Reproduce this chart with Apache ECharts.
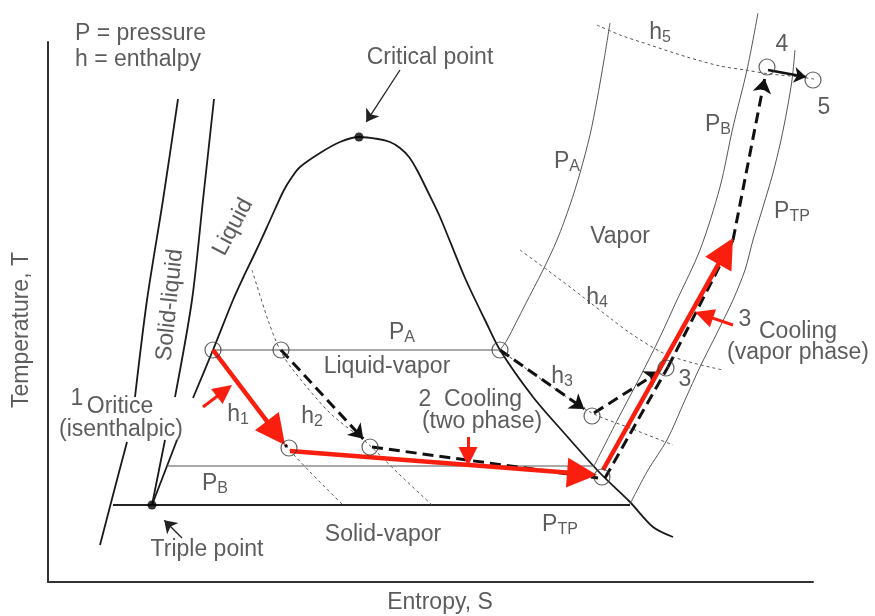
<!DOCTYPE html>
<html>
<head>
<meta charset="utf-8">
<script src="https://cdn.jsdelivr.net/npm/echarts@6/dist/echarts.min.js"></script>
<style>
  html, body { margin: 0; padding: 0; background: #fff; }
  #chart { width: 875px; height: 616px; }
</style>
</head>
<body>
<div id="chart"></div>
<script>
// T-S diagram: entropy S on x (0..153), temperature T on y (0..108), arbitrary units

const solidLiquidA = [[26, 96.6], [23, 76.4], [19.8, 56.4], [17.4, 37]]
const solidLiquidALow = [[15.8, 28], [13, 17.4], [10.4, 7.4]]
const solidLiquidB = [[33.2, 96.6], [31, 76.4], [28.8, 56.4], [25.4, 37]]
const solidLiquidBLow = [[23.4, 28.4], [20.8, 15.4]]
const dome = [[29, 36.8], [33, 46.4], [37, 56.4], [39, 60.8], [41.4, 65.8], [43.8, 71], [45.6, 75],
  [47.2, 78.4], [48.8, 81], [50.4, 83], [54.4, 85.8], [58.4, 88], [62.2, 89],
  [66, 88.6], [68.4, 88], [70.4, 86.8], [72.2, 85], [73.8, 82.4], [76, 78], [78.4, 73],
  [83.4, 60.8], [87.4, 52.4], [90.4, 46.4], [97, 37], [103.4, 29.6],
  [110.4, 21.8], [116.4, 16], [121, 11], [125, 9]]
const domeLow = [[25.8, 28.4], [20.8, 15.4]]

const isoTP = [[13, 15.4], [116.4, 15.4]]
const isoB = [[23.8, 23.2], [109.2, 23.2]]
const isoA = [[33, 46.4], [90.4, 46.4]]
const vapA = [[90.4, 46.4], [91.8, 48.4], [95.4, 55.4], [99, 62.4], [101.8, 68.4], [104.4, 75.4],
  [106.4, 81.8], [108.4, 89.4], [109.8, 96.4], [111.2, 104.4], [112.4, 111.8]]
const vapB = [[109.2, 23.2], [114.4, 33.4], [118.4, 41], [122.4, 49], [125.8, 56.4], [130.4, 66.4],
  [134.4, 79], [137, 91], [139.8, 102.4], [142, 113.8]]
const vapTP = [[116.4, 15.6], [120, 22.4], [123.8, 28.4], [127.4, 36.4], [130.4, 43], [133.8, 49.8],
  [137, 56.4], [139.4, 62.4], [141, 68.4], [143, 75], [145, 81.8], [146.6, 88.4], [147.8, 94.4],
  [148.8, 100.4], [149.4, 106.4]]

const h1 = [[33, 46.4], [47.8, 27], [59, 15.4]]
const h2 = [[40.8, 62.4], [44, 52.4], [46.4, 46.4], [49, 42.4], [56.4, 33.8], [63.8, 27.8], [70.4, 21.4], [76.8, 15.4]]
const h3 = [[90.4, 46.4], [99.4, 40], [108.8, 33.8], [116.4, 30.8], [125, 27.4]]
const h4 = [[94.4, 66.4], [100.4, 62], [107, 57], [112.4, 52.8], [116.4, 49.8], [123, 45.8], [129, 43.8], [135, 42.4]]
const h5 = [[109.8, 111.4], [114.4, 109.4], [120.4, 107.4], [127.8, 105], [134.4, 103.2], [139.4, 102.4],
  [144.4, 101.6], [150.4, 101], [154.4, 100.4]]

const statePoints = [[33, 46.4], [46.6, 46.4], [48.2, 26.8], [64.4, 27], [90.4, 46.4], [108.8, 33.2],
  [110.8, 21], [123.6, 42.8], [143.8, 103], [153, 100.4]]
const criticalPoint = [62.2, 89]
const triplePoint = [20.8, 15.4]

// process paths, each [from, to]
const redPath = [[[33, 46.4], [47.4, 27.4]], [[48.4, 26.2], [109.8, 21.4]], [[111, 22.4], [137, 68.8]]]
const dashedPlain = [[[33, 46.4], [47.8, 27]], [[64.8, 27], [110, 20.8]], [[111.4, 20.8], [124, 43]], [[124, 43], [137, 68.4]]]
const dashedArrows = [[[46.6, 46.4], [64, 27.6]], [[90.4, 46.4], [108.4, 33.8]], [[109.2, 33.8], [123.4, 42.8]], [[137, 68.4], [143.6, 102]]]
const solidArrow = [[[144, 102.4], [152.8, 100.8]]]
const redPointers = [[[31, 35], [36.8, 39.4]], [[84, 29], [84, 23.2]], [[137, 51.4], [129.4, 54]]]
const blackPointers = [[[70.4, 102.4], [63, 91]], [[26.8, 8.8], [22.4, 13.2]]]

const notes = [
  [4.4, 109.6, 'P = pressure'], [4.4, 104.4, 'h = enthalpy'],
  [76.4, 104.8, 'Critical point'], [37, 71, 'Liquid'], [24.4, 55.4, 'Solid-liquid'],
  [67.8, 43, 'Liquid-vapor'], [70.8, 49.8, 'P{s|A}'],
  [38, 33.4, 'h{s|1}'], [52.8, 33, 'h{s|2}'], [102.8, 41, 'h{s|3}'], [109.8, 56.8, 'h{s|4}'], [122.4, 109.8, 'h{s|5}'],
  [5.8, 36.6, '1'], [14.4, 35, 'Oritice'], [14.6, 30.4, '(isenthalpic)'],
  [75.4, 36.4, '2'], [87, 36.4, 'Cooling'], [86.8, 32, '(two phase)'],
  [139.4, 52.4, '3'], [150, 50, 'Cooling'], [150, 45.8, '(vapor phase)'],
  [127.4, 40.4, '3'], [146.8, 107.4, '4'], [155.2, 94.8, '5'],
  [134, 91.4, 'P{s|B}'], [103.8, 84, 'P{s|A}'], [148.8, 74, 'P{s|TP}'],
  [33.4, 19.6, 'P{s|B}'], [102.4, 11.4, 'P{s|TP}'],
  [114.4, 69, 'Vapor'], [67, 9.4, 'Solid-vapor'], [31.8, 6.4, 'Triple point'],
  [-5.2, 50.4, 'Temperature, T'], [78.4, -4.2, 'Entropy, S']
]

const FONT = '"Liberation Sans", Arial, sans-serif'
const INK = '#333'
const RED = '#fa1e0e'
const rotations = { 'Liquid': 62, 'Solid-liquid': 84, 'Temperature, T': 90 }
const leftAligned = ['P = pressure', 'h = enthalpy']

const chart = echarts.init(document.getElementById('chart'))
chart.setOption({
  animation: false,
  grid: { left: 48, right: 62, top: 42, bottom: 34 },
  xAxis: {
    type: 'value', min: 0, max: 153,
    axisLine: { show: true, lineStyle: { color: INK, width: 2 } },
    axisTick: { show: false }, axisLabel: { show: false }, splitLine: { show: false }
  },
  yAxis: {
    type: 'value', min: 0, max: 108,
    axisLine: { show: true, lineStyle: { color: INK, width: 2 } },
    axisTick: { show: false }, axisLabel: { show: false }, splitLine: { show: false }
  }
})

// the head symbol is centred on the segment end, so stop the segment half a head early
function pullBack (seg, len) {
  if (!len) return seg
  const a = chart.convertToPixel({ gridIndex: 0 }, seg[0])
  const b = chart.convertToPixel({ gridIndex: 0 }, seg[1])
  const dx = b[0] - a[0]
  const dy = b[1] - a[1]
  const d = Math.hypot(dx, dy)
  const c = [b[0] - dx / d * len, b[1] - dy / d * len]
  return [seg[0], chart.convertFromPixel({ gridIndex: 0 }, c)]
}

function curve (data, width, color, type, smooth) {
  return {
    type: 'line', data, smooth: smooth === undefined ? 0.3 : smooth, showSymbol: false, clip: false,
    silent: true, z: 2,
    lineStyle: { width, color, type: type || 'solid' }
  }
}

function arrows (segs, width, color, type, head, size, z) {
  const len = head === 'none' ? 0 : (Array.isArray(size) ? size[1] : size) / 2
  return {
    type: 'lines', coordinateSystem: 'cartesian2d', clip: false, silent: true, z,
    symbol: ['none', head], symbolSize: size,
    lineStyle: { width, color, type: type || 'solid', opacity: 1, curveness: 0 },
    data: segs.map(c => ({ coords: pullBack(c, len) }))
  }
}

chart.setOption({
  series: [
    curve(solidLiquidA, 1.8, '#1a1a1a'),
    curve(solidLiquidALow, 1.8, '#1a1a1a'),
    curve(solidLiquidB, 1.8, '#1a1a1a'),
    curve(solidLiquidBLow, 1.8, '#1a1a1a'),
    curve(dome, 1.8, '#1a1a1a', 'solid', 0.3),
    curve(domeLow, 1.8, '#1a1a1a'),
    curve(isoTP, 2, '#222', 'solid', false),
    curve(isoB, 1, '#555', 'solid', false),
    curve(isoA, 1, '#555', 'solid', false),
    curve(vapA, 1, '#555'),
    curve(vapB, 1, '#555'),
    curve(vapTP, 1, '#555'),
    curve(h1, 1, '#555', [3, 3]),
    curve(h2, 1, '#555', [3, 3]),
    curve(h3, 1, '#555', [3, 3]),
    curve(h4, 1, '#555', [3, 3]),
    curve(h5, 1, '#555', [3, 3]),
    arrows(dashedPlain, 3, '#111', [11, 6], 'none', 10, 4),
    arrows(dashedArrows, 3, '#111', [11, 6], 'arrow', [11, 14], 4),
    arrows(solidArrow, 2.5, '#111', 'solid', 'arrow', [10, 12], 4),
    arrows(redPath, 4.5, RED, 'solid', 'triangle', [25, 30], 5),
    arrows(redPointers, 3, RED, 'solid', 'triangle', [18, 19], 5),
    arrows(blackPointers, 1.3, '#222', 'solid', 'arrow', [8, 12], 5),
    {
      type: 'scatter', data: statePoints, symbolSize: 16, clip: false, silent: true, z: 6,
      itemStyle: { color: 'rgba(0,0,0,0)', borderColor: '#3a3a3a', borderWidth: 1.2 }
    },
    {
      type: 'scatter', data: [criticalPoint, triplePoint], symbolSize: 9, clip: false, silent: true, z: 6,
      itemStyle: { color: '#000' }
    },
    {
      type: 'scatter', symbolSize: 0, clip: false, silent: true, z: 7,
      data: notes.map(n => ({
        value: [n[0], n[1]],
        name: n[2],
        label: {
          rotate: rotations[n[2]] || 0,
          position: leftAligned.includes(n[2]) ? 'insideLeft' : 'inside'
        }
      })),
      label: {
        show: true, formatter: '{b}', color: INK, fontFamily: FONT, fontSize: 23,
        rich: { s: { fontSize: 16, fontFamily: FONT, color: INK, padding: [10, 0, 0, 0] } }
      }
    }
  ]
})
</script>
</body>
</html>
